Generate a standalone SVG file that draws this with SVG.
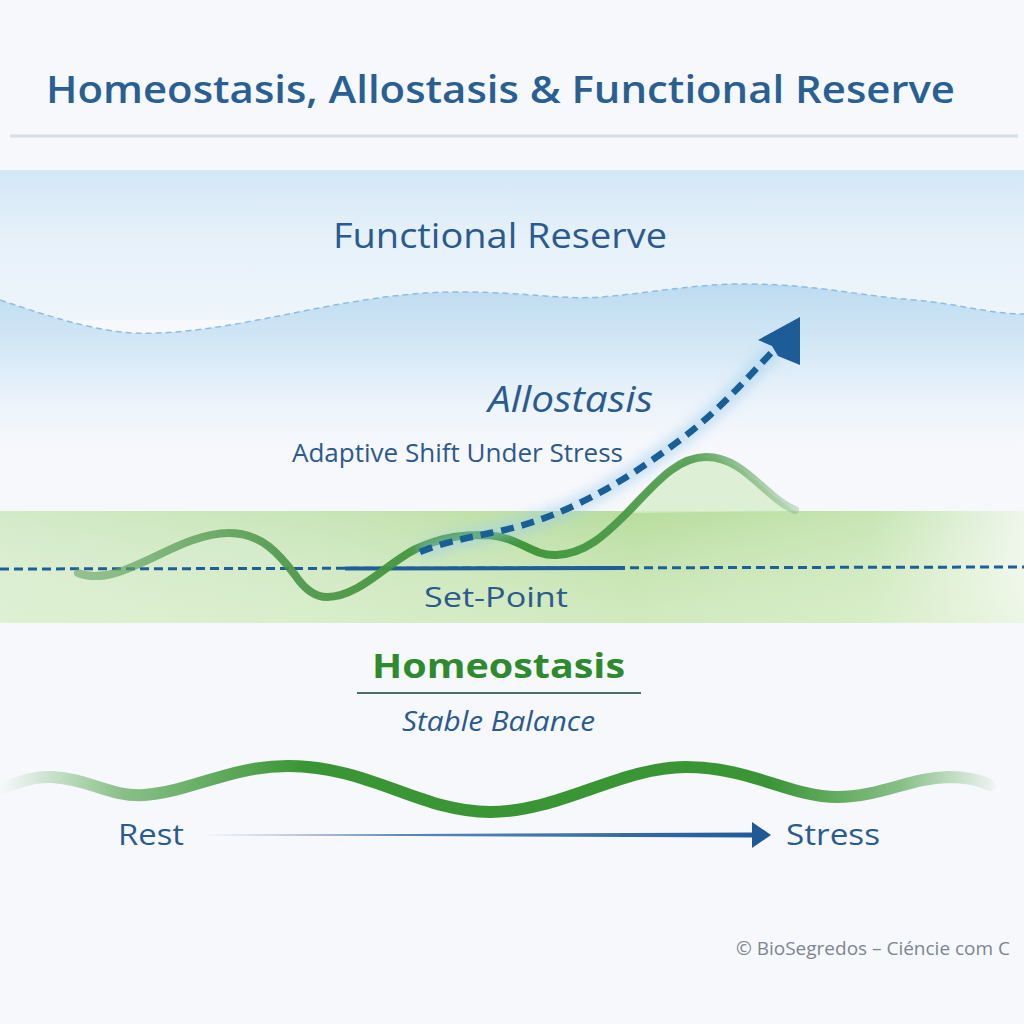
<svg xmlns="http://www.w3.org/2000/svg" width="1024" height="1024" viewBox="0 0 1024 1024">
  <defs>
    <linearGradient id="bgTop" x1="0" y1="0" x2="0" y2="1">
      <stop offset="0" stop-color="#d3e7f6"/>
      <stop offset="0.45" stop-color="#e6f1fa"/>
      <stop offset="1" stop-color="#eef5fb"/>
    </linearGradient>
    <linearGradient id="bgWave" x1="0" y1="0" x2="0" y2="1">
      <stop offset="0" stop-color="#bddbf0"/>
      <stop offset="0.4" stop-color="#d8eaf7"/>
      <stop offset="1" stop-color="#f6f9fd" stop-opacity="0"/>
    </linearGradient>
    <linearGradient id="greenBand" x1="0" y1="0" x2="1" y2="0">
      <stop offset="0" stop-color="#d3eac7"/>
      <stop offset="0.3" stop-color="#c8e5b8"/>
      <stop offset="0.62" stop-color="#b8dd9e"/>
      <stop offset="0.85" stop-color="#c6e5b2"/>
      <stop offset="1" stop-color="#eef6ea"/>
    </linearGradient>
    <linearGradient id="greenBandV" x1="0" y1="0" x2="0" y2="1">
      <stop offset="0" stop-color="#ffffff" stop-opacity="0"/>
      <stop offset="1" stop-color="#eaf6de" stop-opacity="0.5"/>
    </linearGradient>
    <linearGradient id="waveStroke" x1="0" y1="0" x2="1024" y2="0" gradientUnits="userSpaceOnUse">
      <stop offset="0" stop-color="#3f9a3a" stop-opacity="0"/>
      <stop offset="0.12" stop-color="#3f9a3a" stop-opacity="0.6"/>
      <stop offset="0.3" stop-color="#3a9535" stop-opacity="1"/>
      <stop offset="0.75" stop-color="#3a9535" stop-opacity="1"/>
      <stop offset="0.88" stop-color="#3f9a3a" stop-opacity="0.6"/>
      <stop offset="0.98" stop-color="#3f9a3a" stop-opacity="0"/>
    </linearGradient>
    <linearGradient id="curveStroke" x1="70" y1="0" x2="800" y2="0" gradientUnits="userSpaceOnUse">
      <stop offset="0" stop-color="#6aa56a" stop-opacity="0.6"/>
      <stop offset="0.3" stop-color="#4b9447" stop-opacity="0.9"/>
      <stop offset="0.6" stop-color="#3f9639"/>
      <stop offset="0.85" stop-color="#4e9a4c" stop-opacity="0.9"/>
      <stop offset="1" stop-color="#6aa86a" stop-opacity="0.3"/>
    </linearGradient>
    <linearGradient id="arrowLine" x1="200" y1="0" x2="760" y2="0" gradientUnits="userSpaceOnUse">
      <stop offset="0" stop-color="#2a64a0" stop-opacity="0.6"/>
      <stop offset="1" stop-color="#1f5a96"/>
    </linearGradient>
    <filter id="glow" x="-20%" y="-20%" width="140%" height="140%">
      <feGaussianBlur stdDeviation="6"/>
    </filter>
    <style>
      .txt { font-family: "Open Sans", "Liberation Sans", sans-serif; fill: #2a5a8f; }
      .title { font-size: 38px; font-weight: 600; fill: #2a5f93; }
      .blue { fill: #2a5a8f; }
      .green { fill: #2e8a2e; font-weight: 700; }
      .foot { fill: #7c8592; font-size: 19px; }
    </style>
  </defs>

  <!-- background -->
  <rect x="0" y="0" width="1024" height="1024" fill="#f7f8fc"/>

  <g id="title">
    <text class="txt title" x="46" y="103" textLength="909" lengthAdjust="spacingAndGlyphs">Homeostasis, Allostasis &amp; Functional Reserve</text>
    <line x1="10" y1="136" x2="1018" y2="136" stroke="#d6dee9" stroke-width="3"/>
  </g>

  <!-- functional reserve zone -->
  <g id="functional-reserve">
    <rect x="0" y="170" width="1024" height="150" fill="url(#bgTop)"/>
    <path d="M0,300 C60,320 110,336 157,333 C250,330 350,292 457,292 C530,292 560,300 601,297 C660,292 700,283 751,284 C820,285 860,296 915,300 C960,304 990,314 1024,314 L1024,470 L0,470 Z" fill="url(#bgWave)"/>
    <path d="M0,300 C60,320 110,336 157,333 C250,330 350,292 457,292 C530,292 560,300 601,297 C660,292 700,283 751,284 C820,285 860,296 915,300 C960,304 990,314 1024,314" fill="none" stroke="#8fbde0" stroke-width="1.5" stroke-dasharray="6 4"/>
    <text class="txt blue" x="333" y="248" font-size="34" textLength="334" lengthAdjust="spacingAndGlyphs">Functional Reserve</text>
  </g>

  <!-- homeostatic band -->
  <g id="setpoint-band">
    <rect x="0" y="511" width="1024" height="112" fill="url(#greenBand)"/>
    <rect x="0" y="511" width="1024" height="112" fill="url(#greenBandV)"/>
    <text class="txt blue" x="424" y="607" font-size="28" textLength="144" lengthAdjust="spacingAndGlyphs">Set-Point</text>
  </g>

  <g id="connectors">
    <!-- fills under the green curve -->
    <path d="M150,555 C185,540 205,533 229,533 C255,533 275,550 290,569 L150,569 Z" fill="#d7ecd0" opacity="0.6"/>
    <path d="M627,513 C652,488 675,457 706,457 C740,457 760,490 795,511 Z" fill="#d6edcb" opacity="0.8"/>
    <!-- set-point line -->
    <line x1="0" y1="569" x2="1024" y2="567" stroke="#1f5f99" stroke-width="3" stroke-dasharray="9 5"/>
    <line x1="345" y1="568.5" x2="625" y2="568" stroke="#1f5f99" stroke-width="4"/>
    <!-- green physiological curve -->
    <path d="M78,573 C120,590 175,533 229,533 C262,533 280,555 295,575 C305,590 315,597 327,597 C360,597 390,560 418,548 C445,536 465,535 484,535 C520,536 530,556 556,555 C585,554 605,535 627,513 C652,488 675,457 706,457 C745,457 765,498 795,510" fill="none" stroke="url(#curveStroke)" stroke-width="8" stroke-linecap="round"/>
    <!-- allostasis dashed arrow -->
    <path d="M420,552 C450,540 470,538 490,533 C560,520 620,485 680,440 C720,410 745,380 776,348" fill="none" stroke="#9ccbec" stroke-width="16" opacity="0.5" filter="url(#glow)"/>
    <path d="M420,552 C450,540 470,538 490,533 C560,520 620,485 680,440 C720,410 745,380 776,348" fill="none" stroke="#1a5e96" stroke-width="6.5" stroke-dasharray="13 8"/>
    <polygon points="800,317 758,340 772,346 778,356 800,365" fill="#1d5c97"/>
    <!-- bottom homeostasis wave -->
    <path d="M0,790 C20,780 35,776 52,777 C90,779 110,797 144,795 C190,792 230,766 288,766 C370,766 420,812 490,812 C560,812 620,767 686,767 C750,767 790,797 837,797 C880,797 910,778 948,777 C965,777 980,780 990,785" fill="none" stroke="url(#waveStroke)" stroke-width="12" stroke-linecap="round"/>
    <!-- rest -> stress arrow -->
    <path d="M200,835 L752,832.5 L752,837.5 Z" fill="url(#arrowLine)"/>
    <polygon points="752,822 771,835 752,848" fill="#1f5a96"/>
  </g>

  <g id="allostasis">
    <text class="txt blue" x="488" y="412" font-size="36" font-style="italic" textLength="165" lengthAdjust="spacingAndGlyphs">Allostasis</text>
    <text class="txt blue" x="292" y="462" font-size="25" textLength="331" lengthAdjust="spacingAndGlyphs">Adaptive Shift Under Stress</text>
  </g>

  <g id="homeostasis">
    <text class="txt green" x="372" y="678" font-size="34" textLength="253" lengthAdjust="spacingAndGlyphs">Homeostasis</text>
    <line x1="357" y1="693" x2="641" y2="693" stroke="#4d6f60" stroke-width="2"/>
    <text class="txt blue" x="402" y="731" font-size="27" font-style="italic" textLength="193" lengthAdjust="spacingAndGlyphs">Stable Balance</text>
  </g>

  <g id="rest">
    <text class="txt blue" x="118" y="845" font-size="30" textLength="66" lengthAdjust="spacingAndGlyphs">Rest</text>
  </g>
  <g id="stress">
    <text class="txt blue" x="786" y="845" font-size="30" textLength="94" lengthAdjust="spacingAndGlyphs">Stress</text>
  </g>

  <g id="footer">
    <text class="txt foot" x="736" y="955" textLength="274" lengthAdjust="spacingAndGlyphs">© BioSegredos – Ciéncie com C</text>
  </g>
</svg>
